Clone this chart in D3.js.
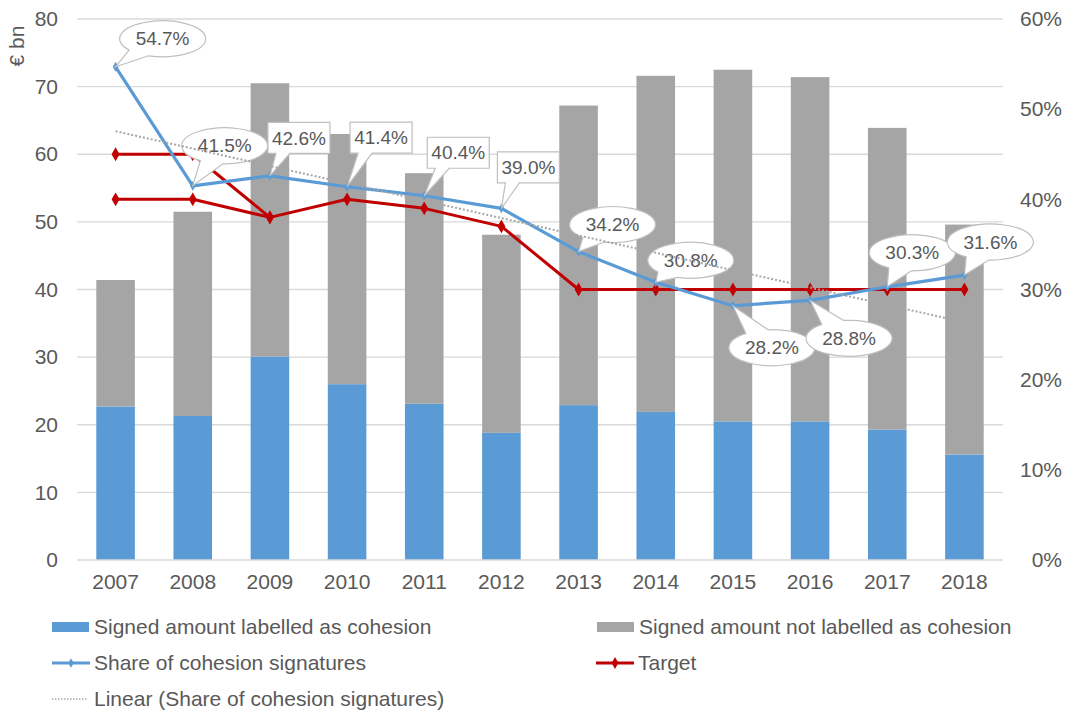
<!DOCTYPE html>
<html>
<head>
<meta charset="utf-8">
<script src="https://cdn.jsdelivr.net/npm/d3@7"></script>
<style>
  body { margin: 0; background: #fff; }
  text { font-family: "Liberation Sans", Arial, sans-serif; fill: #595959; }
</style>
</head>
<body>
<svg id="chart" width="1068" height="713"></svg>
<script>
// data
const years = ["2007", "2008", "2009", "2010", "2011", "2012", "2013", "2014", "2015", "2016", "2017", "2018"];
const cohesion = [22.7, 21.3, 30.1, 26.0, 23.1, 18.8, 22.9, 21.9, 20.5, 20.5, 19.3, 15.6];
const notCohesion = [18.7, 30.2, 40.4, 37.0, 34.1, 29.3, 44.3, 49.7, 52.0, 50.9, 44.6, 34.0];
const share = [0.547, 0.415, 0.426, 0.414, 0.404, 0.390, 0.342, 0.308, 0.282, 0.288, 0.303, 0.316];
const target = [0.40, 0.40, 0.38, 0.40, 0.39, 0.37, 0.30, 0.30, 0.30, 0.30, 0.30, 0.30];
const targetUpper = [0.45, 0.45, 0.38];
const leftTicks = [0, 10, 20, 30, 40, 50, 60, 70, 80];
const rightTicks = [0, 0.1, 0.2, 0.3, 0.4, 0.5, 0.6];

// callout placement (offset from point, shape)
const callouts = [
  { dx: 47, dy: -28, shape: "ellipse" },
  { dx: 32, dy: -40, shape: "ellipse" },
  { dx: 29, dy: -38, shape: "rect" },
  { dx: 34, dy: -49, shape: "rect" },
  { dx: 34, dy: -43, shape: "rect" },
  { dx: 27, dy: -41, shape: "rect" },
  { dx: 34, dy: -27, shape: "ellipse" },
  { dx: 35, dy: -22, shape: "ellipse" },
  { dx: 39, dy: 42, shape: "ellipse" },
  { dx: 39, dy: 38, shape: "ellipse" },
  { dx: 25, dy: -34, shape: "ellipse" },
  { dx: 26, dy: -33, shape: "ellipse" }
];

const blue = "#5b9bd5", grey = "#a5a5a5", red = "#c00000";
const svg = d3.select("#chart");
const mLeft = 77, mRight = 1003, mTop = 19, mBottom = 560;

const x = d3.scaleBand().domain(years).range([mLeft, mRight]).paddingInner(0.5).paddingOuter(0.25);
const y = d3.scaleLinear().domain([0, 80]).range([mBottom, mTop]);
const y2 = d3.scaleLinear().domain([0, 0.6]).range([mBottom, mTop]);
const cx = d => x(d) + x.bandwidth() / 2;

// gridlines
svg.append("g").selectAll("line")
  .data(leftTicks.filter(d => d > 0))
  .enter().append("line")
  .attr("x1", mLeft).attr("x2", mRight)
  .attr("y1", d => y(d)).attr("y2", d => y(d))
  .attr("stroke", "#d9d9d9").attr("stroke-width", 1.3);

// axes
const yAxis = svg.append("g")
  .attr("transform", `translate(${mLeft},0)`)
  .call(d3.axisLeft(y).tickValues(leftTicks).tickSize(0).tickPadding(19));
yAxis.select(".domain").remove();
yAxis.selectAll("text").style("font-size", "21px").attr("fill", "#595959");

const y2Axis = svg.append("g")
  .attr("transform", `translate(${mRight},0)`)
  .call(d3.axisRight(y2).tickValues(rightTicks).tickSize(0).tickFormat(d3.format(".0%")));
y2Axis.select(".domain").remove();
y2Axis.selectAll("text").style("font-size", "21px").attr("fill", "#595959")
  .attr("text-anchor", "end").attr("x", 59);

// stacked bars
const stackData = years.map((yr, i) => ({ year: yr, a: cohesion[i], b: notCohesion[i] }));
const series = d3.stack().keys(["a", "b"])(stackData);
const colors = { a: blue, b: grey };
svg.append("g").selectAll("g")
  .data(series)
  .enter().append("g")
  .attr("fill", d => colors[d.key])
  .selectAll("rect")
  .data(d => d)
  .enter().append("rect")
  .attr("x", d => x(d.data.year))
  .attr("width", x.bandwidth())
  .attr("y", d => y(d[1]))
  .attr("height", d => y(d[0]) - y(d[1]));

// baseline
svg.append("line")
  .attr("x1", mLeft).attr("x2", mRight)
  .attr("y1", mBottom).attr("y2", mBottom)
  .attr("stroke", "#d9d9d9").attr("stroke-width", 1.3);

const xAxis = svg.append("g")
  .attr("transform", `translate(0,${mBottom})`)
  .call(d3.axisBottom(x).tickSize(0).tickPadding(14));
xAxis.select(".domain").remove();
xAxis.selectAll("text").style("font-size", "21px").attr("fill", "#595959");

// € bn label
svg.append("text")
  .attr("transform", "translate(24,46) rotate(-90)")
  .attr("text-anchor", "middle")
  .style("font-size", "21px")
  .text("€ bn");

const line = d3.line().x(d => cx(d.year)).y(d => y2(d.v));
const diamond = d3.symbol().type(d3.symbolDiamond);

// target lines
function drawLine(vals, color, width, markerSize) {
  const pts = vals.map((v, i) => ({ year: years[i], v: v }));
  svg.append("path").datum(pts)
    .attr("fill", "none").attr("stroke", color).attr("stroke-width", width)
    .attr("stroke-linejoin", "round")
    .attr("d", line);
  svg.append("g").selectAll("path")
    .data(pts).enter().append("path")
    .attr("transform", d => `translate(${cx(d.year)},${y2(d.v)})`)
    .attr("d", diamond.size(markerSize)())
    .attr("fill", color);
}
drawLine(targetUpper, red, 3, 55);
drawLine(target, red, 3, 55);
drawLine(share, blue, 3.2, 28);

// callouts
const fmt = d3.format(".1%");
const cg = svg.append("g");
share.forEach((v, i) => {
  const px = cx(years[i]), py = y2(v);
  const c = callouts[i];
  const ccx = px + c.dx, ccy = py + c.dy;
  let d;
  if (c.shape === "ellipse") {
    const rx = 43, ry = 18;
    const phi = Math.atan2((py - ccy) / ry, (px - ccx) / rx);
    const dl = 0.28;
    const p = a => [ccx + rx * Math.cos(a), ccy + ry * Math.sin(a)];
    const p1 = p(phi + dl), p2 = p(phi - dl);
    d = `M${p1[0]},${p1[1]} L${px},${py} L${p2[0]},${p2[1]} A${rx},${ry} 0 1 0 ${p1[0]},${p1[1]} Z`;
  } else {
    const w = 62, h = 31;
    const l = ccx - w / 2, r = ccx + w / 2, t = ccy - h / 2, b = ccy + h / 2;
    const b1 = l + 8, b2 = l + 22;
    d = `M${l},${t} H${r} V${b} H${b2} L${px},${py} L${b1},${b} H${l} Z`;
  }
  cg.append("path").attr("d", d)
    .attr("fill", "#fff").attr("stroke", "#bfbfbf").attr("stroke-width", 1.2);
  cg.append("text")
    .attr("x", ccx).attr("y", ccy)
    .attr("text-anchor", "middle").attr("dy", "0.35em")
    .style("font-size", "19px")
    .text(fmt(v));
});

// linear trendline of share
const n = share.length;
const xm = d3.mean(share, (d, i) => i), ym = d3.mean(share);
const slope = d3.sum(share, (d, i) => (i - xm) * (d - ym)) / d3.sum(share, (d, i) => (i - xm) * (i - xm));
const icpt = ym - slope * xm;
svg.append("line")
  .attr("x1", cx(years[0])).attr("y1", y2(icpt))
  .attr("x2", cx(years[n - 1])).attr("y2", y2(icpt + slope * (n - 1)))
  .attr("stroke", "#a6a6a6").attr("stroke-width", 2)
  .attr("stroke-dasharray", "2,2");

// legend
const lg = svg.append("g").style("font-size", "21px");
const items = [
  { x: 52, y: 627, type: "rect", color: blue, label: "Signed amount labelled as cohesion" },
  { x: 597, y: 627, type: "rect", color: grey, label: "Signed amount not labelled as cohesion" },
  { x: 52, y: 663, type: "line", color: blue, label: "Share of cohesion signatures" },
  { x: 596, y: 663, type: "line", color: red, label: "Target" },
  { x: 52, y: 699, type: "trend", color: "#a6a6a6", label: "Linear (Share of cohesion signatures)" }
];
items.forEach(it => {
  const g = lg.append("g").attr("transform", `translate(${it.x},${it.y})`);
  if (it.type === "rect") {
    g.append("rect").attr("x", 0).attr("y", -5).attr("width", 37).attr("height", 10).attr("fill", it.color);
  } else if (it.type === "line") {
    g.append("line").attr("x1", 0).attr("x2", 38).attr("stroke", it.color).attr("stroke-width", 3);
    g.append("path").attr("transform", "translate(19,0)")
      .attr("d", d3.symbol().type(d3.symbolDiamond).size(it.color === red ? 40 : 25)())
      .attr("fill", it.color);
  } else {
    g.append("line").attr("x1", 0).attr("x2", 35).attr("stroke", it.color)
      .attr("stroke-width", 1.5).attr("stroke-dasharray", "1.5,1.5");
  }
  g.append("text").attr("x", 42).attr("dy", "0.35em").text(it.label);
});
</script>
</body>
</html>
